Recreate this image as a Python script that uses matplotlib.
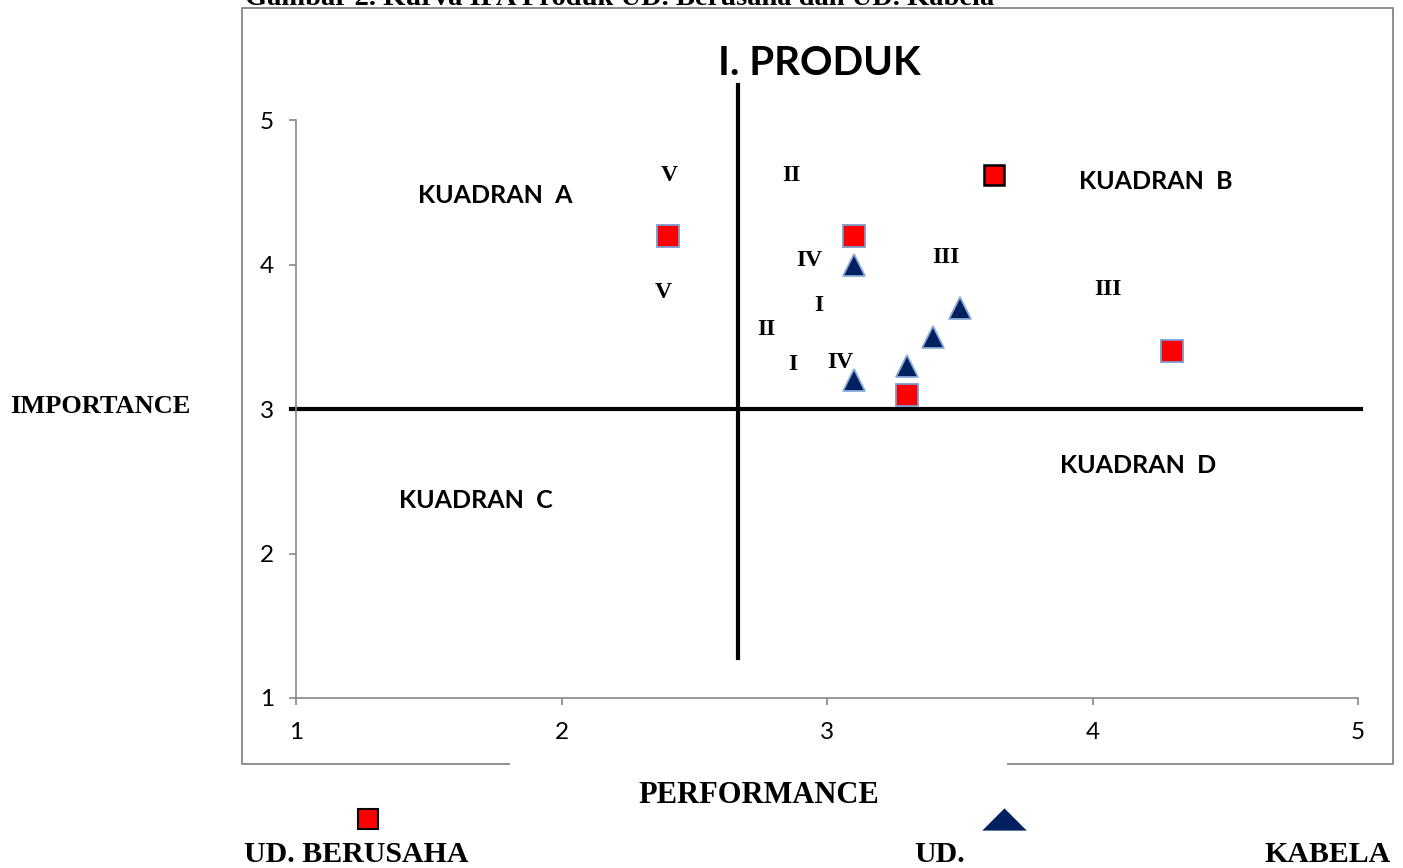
import matplotlib
matplotlib.use('Agg')
import matplotlib.pyplot as plt
from matplotlib.lines import Line2D

# ---------------------------------------------------------------------------
# data (performance, importance)
# ---------------------------------------------------------------------------
berusaha_perf = [2.4, 3.1, 3.3, 4.3]
berusaha_imp = [4.2, 4.2, 3.1, 3.4]
# extra square drawn with a black outline
extra_perf = [3.63]
extra_imp = [4.62]

kabela_perf = [3.1, 3.5, 3.4, 3.3, 3.1]
kabela_imp = [4.0, 3.7, 3.5, 3.3, 3.2]

ticks = [1, 2, 3, 4, 5]
mean_perf = 2.665
mean_imp = 3.0

# roman numeral labels (text, x, baseline y)
numerals = [
    ("V", 2.405, 4.578), ("II", 2.864, 4.578), ("IV", 2.932, 3.990),
    ("III", 3.448, 4.010), ("V", 2.382, 3.768), ("I", 2.970, 3.678),
    ("II", 2.770, 3.512), ("I", 2.872, 3.270), ("IV", 3.049, 3.284),
    ("III", 4.058, 3.789),
]
quadrants = [
    ("KUADRAN  A", 1.75, 4.426), ("KUADRAN  B", 4.24, 4.522),
    ("KUADRAN  C", 1.678, 2.315), ("KUADRAN  D", 4.171, 2.557),
]

SERIF = 'Liberation Serif'
SANS = 'Lato'
RED = '#ff0000'
NAVY = '#002060'
GREY = '#868686'

W, H = 1403, 868
fig = plt.figure(figsize=(W / 100, H / 100), dpi=100)
fig.patch.set_facecolor('white')


def fx(px):
    return px / W


def fy(py):
    return 1 - py / H


ax = fig.add_axes([fx(296), fy(698), fx(1358) - fx(296), fy(120) - fy(698)])
ax.set_xlim(1, 5)
ax.set_ylim(1, 5)
for s in ['top', 'right']:
    ax.spines[s].set_visible(False)
for s in ['left', 'bottom']:
    ax.spines[s].set_color(GREY)
    ax.spines[s].set_linewidth(1.2)
ax.set_xticks(ticks)
ax.set_yticks(ticks)
ax.tick_params(axis='both', direction='out', length=5, width=1.2, color=GREY,
               labelsize=17.5)
ax.tick_params(axis='y', pad=11)
ax.tick_params(axis='x', pad=12)
for lab in ax.get_xticklabels() + ax.get_yticklabels():
    lab.set_fontfamily(SANS)

# quadrant lines
ax.plot([mean_perf, mean_perf], [1.28, 5.24], color='black', lw=3, clip_on=False, zorder=2)
ax.plot([0.98, 5.01], [mean_imp, mean_imp], color='black', lw=3, clip_on=False, zorder=2)

# points
ax.plot(berusaha_perf, berusaha_imp, 's', ms=15.5, mfc=RED, mec='#7b9bd0', mew=1.3,
        zorder=4, clip_on=False)
ax.plot(extra_perf, extra_imp, 's', ms=15, mfc=RED, mec='black', mew=1.8,
        zorder=4, clip_on=False)
ax.plot(kabela_perf, kabela_imp, '^', ms=16.5, mfc=NAVY, mec='#8eaadb', mew=1.3,
        zorder=4, clip_on=False)

for txt, x, y in numerals:
    ax.text(x, y, txt, ha='center', va='baseline', fontsize=17,
            fontfamily=SERIF, fontweight='bold')
for txt, x, y in quadrants:
    ax.text(x, y, txt, ha='center', va='baseline', fontsize=18,
            fontfamily=SANS, fontweight='bold')

# chart title
fig.text(fx(819.5), fy(75), 'I. PRODUK', ha='center', va='baseline',
         fontsize=29, fontfamily=SANS, fontweight='bold')

# caption cut by the top edge (as in the source image)
fig.text(fx(245), fy(5), 'Gambar 2. Kurva IPA Produk UD. Berusaha dan UD. Kabela',
         ha='left', va='baseline', fontsize=20.5, fontfamily=SERIF, fontweight='bold')

# chart border with gap at the bottom
bx = [fx(509), fx(242), fx(242), fx(1393), fx(1393), fx(1008)]
by = [fy(764), fy(764), fy(8), fy(8), fy(764), fy(764)]
fig.add_artist(Line2D(bx, by, color=GREY, lw=1.3, transform=fig.transFigure))

# axis titles
fig.text(fx(100), fy(413), 'IMPORTANCE', ha='center', va='baseline',
         fontsize=19, fontfamily=SERIF, fontweight='bold')
fig.text(fx(759), fy(803), 'PERFORMANCE', ha='center', va='baseline',
         fontsize=22, fontfamily=SERIF, fontweight='bold')

# legend
fig.add_artist(Line2D([fx(368)], [fy(819)], marker='s', ms=15, mfc=RED, mec='black',
                      mew=1.5, transform=fig.transFigure))
fig.add_artist(Line2D([fx(1004)], [fy(818.5)], marker=[(-1, -0.5), (1, -0.5), (0, 0.5)],
                      ms=32, mfc=NAVY, mec=NAVY, mew=0, transform=fig.transFigure))
for txt, px in [('UD. BERUSAHA', 356.5), ('UD.', 940), ('KABELA', 1327.5)]:
    fig.text(fx(px), fy(862), txt, ha='center', va='baseline',
             fontsize=21.5, fontfamily=SERIF, fontweight='bold')

fig.savefig('out.png', dpi=100, facecolor='white')
